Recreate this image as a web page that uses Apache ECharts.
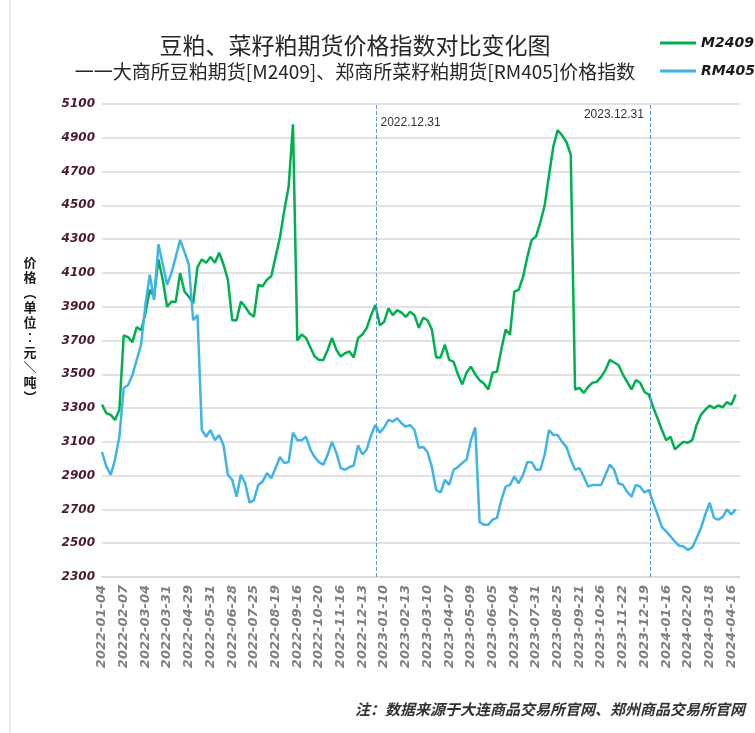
<!DOCTYPE html>
<html>
<head>
<meta charset="utf-8">
<script src="https://cdn.jsdelivr.net/npm/echarts@6/dist/echarts.min.js"></script>
<style>
	html, body { margin: 0; padding: 0; background: #fff; }
	#main { width: 755px; height: 733px; }
</style>
</head>
<body>
<div id="main"></div>
<script>
// trading-day tick labels, one every 20 trading days
var tickLabels = ['2022-01-04', '2022-02-07', '2022-03-04', '2022-03-31', '2022-04-29', '2022-05-31',
	'2022-06-28', '2022-07-25', '2022-08-19', '2022-09-16', '2022-10-20', '2022-11-16', '2022-12-13',
	'2023-01-10', '2023-02-13', '2023-03-10', '2023-04-07', '2023-05-09', '2023-06-05', '2023-07-04',
	'2023-07-31', '2023-08-25', '2023-09-21', '2023-10-26', '2023-11-22', '2023-12-19', '2024-01-16',
	'2024-02-20', '2024-03-18', '2024-04-16'];

// values read every 4 trading days
var step = 4;
var m2409 = [3320, 3270, 3260, 3230, 3290, 3730, 3720, 3690, 3780, 3760,
	3860, 4000, 3960, 4180, 4060, 3900, 3930, 3930, 4100, 3990,
	3960, 3920, 4135, 4180, 4160, 4195, 4160, 4220, 4150, 4060,
	3820, 3820, 3930, 3900, 3860, 3840, 4030, 4020, 4060, 4080,
	4195, 4310, 4470, 4610, 4980, 3700, 3735, 3715, 3660, 3605,
	3585, 3585, 3645, 3715, 3645, 3605, 3625, 3635, 3600, 3715,
	3735, 3775, 3850, 3910, 3790, 3810, 3890, 3850, 3880, 3865,
	3840, 3870, 3850, 3775, 3835, 3820, 3765, 3600, 3600, 3675,
	3585, 3575, 3500, 3440, 3510, 3545, 3500, 3465, 3445, 3410,
	3510, 3515, 3645, 3765, 3735, 3990, 4000, 4075, 4195, 4295,
	4315, 4400, 4500, 4680, 4850, 4945, 4915, 4875, 4800, 3410,
	3420, 3390, 3425, 3450, 3455, 3485, 3525, 3585, 3570, 3555,
	3500, 3455, 3410, 3465, 3450, 3395, 3380, 3305, 3240, 3170,
	3110, 3130, 3055, 3080, 3100, 3095, 3110, 3200, 3260, 3290,
	3315, 3300, 3315, 3305, 3335, 3320, 3380];
var rm405 = [3040, 2955, 2905, 2995, 3130, 3420, 3435, 3495, 3585, 3675,
	3910, 4090, 3940, 4270, 4150, 4030, 4100, 4195, 4295, 4225,
	4150, 3820, 3850, 3170, 3130, 3170, 3110, 3140, 3080, 2905,
	2875, 2775, 2905, 2855, 2740, 2755, 2845, 2865, 2915, 2885,
	2945, 3010, 2975, 2980, 3155, 3110, 3110, 3130, 3055, 3010,
	2980, 2965, 3025, 3100, 3035, 2945, 2935, 2950, 2960, 3080,
	3025, 3055, 3140, 3200, 3155, 3185, 3230, 3220, 3240, 3210,
	3190, 3200, 3170, 3065, 3070, 3040, 2950, 2815, 2800, 2875,
	2845, 2935, 2950, 2975, 2995, 3110, 3185, 2625, 2610, 2610,
	2640, 2650, 2755, 2835, 2845, 2895, 2855, 2905, 2980, 2980,
	2935, 2935, 3025, 3170, 3140, 3140, 3100, 3070, 2995, 2935,
	2945, 2895, 2835, 2845, 2845, 2845, 2905, 2965, 2935, 2855,
	2845, 2805, 2775, 2845, 2835, 2800, 2815, 2740, 2670, 2595,
	2570, 2540, 2510, 2485, 2480, 2460, 2475, 2530, 2590, 2670,
	2740, 2650, 2640, 2655, 2700, 2670, 2700];

// year-end markers (trading-day index)
var yearEnds = [{ idx: 253, text: '2022.12.31' }, { idx: 505, text: '2023.12.31' }];

function toPairs(arr) {
	return arr.map(function(v, i) { return [i * step, v]; });
}

var myChart = echarts.init(document.getElementById('main'));
var option = {
	animation: false,
	backgroundColor: '#fff',
	title: {
		text: '豆粕、菜籽粕期货价格指数对比变化图',
		subtext: '一一大商所豆粕期货[M2409]、郑商所菜籽粕期货[RM405]价格指数',
		left: 350,
		textAlign: 'center',
		top: 29,
		itemGap: 5,
		textStyle: {
			fontFamily: 'Noto Sans CJK SC',
			fontSize: 23,
			fontWeight: 'normal',
			color: '#262626'
		},
		subtextStyle: {
			fontFamily: 'Noto Sans CJK SC',
			fontSize: 19,
			color: '#262626'
		}
	},
	legend: {
		orient: 'vertical',
		left: 655,
		top: 31,
		itemGap: 14,
		icon: 'rect',
		itemWidth: 36,
		itemHeight: 3,
		textStyle: {
			fontFamily: 'DejaVu Sans',
			fontStyle: 'italic',
			fontWeight: 'bold',
			fontSize: 14,
			color: '#1a1a1a'
		},
		data: ['M2409', 'RM405']
	},
	grid: {
		left: 102,
		right: 15,
		top: 104,
		bottom: 156
	},
	xAxis: {
		type: 'value',
		min: 0,
		max: 588,
		interval: 20,
		axisLine: { lineStyle: { color: '#d9d9d9', width: 1.5 } },
		axisTick: { show: false },
		splitLine: { show: false },
		axisLabel: {
			rotate: 90,
			margin: 8,
			showMaxLabel: false,
			fontFamily: 'DejaVu Sans',
			fontStyle: 'italic',
			fontWeight: 'bold',
			fontSize: 13,
			color: '#7f7f7f',
			formatter: function(v) {
				return v % 20 === 0 && tickLabels[v / 20] ? tickLabels[v / 20] : '';
			}
		}
	},
	yAxis: {
		type: 'value',
		min: 2300,
		max: 5100,
		interval: 200,
		axisLine: { show: false },
		axisTick: { show: false },
		splitLine: { lineStyle: { color: '#d9d9d9', width: 1.5 } },
		axisLabel: {
			margin: 7,
			fontFamily: 'DejaVu Sans',
			fontStyle: 'italic',
			fontWeight: 'bold',
			fontSize: 12,
			color: '#4a1a33',
			formatter: function(v) { return String(v); }
		}
	},
	series: [{
		name: 'M2409',
		type: 'line',
		showSymbol: false,
		color: '#00b050',
		lineStyle: { width: 2.5 },
		data: toPairs(m2409),
		markLine: {
			silent: true,
			symbol: 'none',
			lineStyle: { type: 'dashed', color: '#5b9bd5', width: 1 },
			label: { show: false },
			data: yearEnds.map(function(d) { return { xAxis: d.idx }; })
		}
	}, {
		name: 'RM405',
		type: 'line',
		showSymbol: false,
		color: '#3fb4e5',
		lineStyle: { width: 2.5 },
		data: toPairs(rm405)
	}]
};
myChart.setOption(option);

// annotations placed next to the year-end markers
var x1 = myChart.convertToPixel({ xAxisIndex: 0 }, yearEnds[0].idx);
var x2 = myChart.convertToPixel({ xAxisIndex: 0 }, yearEnds[1].idx);
var axisNameChars = '价格︵单位︰元＼吨︶'.split('');
myChart.setOption({
	graphic: [{
		type: 'line',
		shape: { x1: 10, y1: 0, x2: 10, y2: 733 },
		style: { stroke: '#d9d9d9', lineWidth: 1 }
	}, {
		type: 'text',
		x: x1 + 4,
		y: 123,
		style: {
			text: yearEnds[0].text,
			fontFamily: 'Liberation Sans',
			fontSize: 12,
			fill: '#333',
			textVerticalAlign: 'middle'
		}
	}, {
		type: 'text',
		x: x2 - 6,
		y: 115,
		style: {
			text: yearEnds[1].text,
			fontFamily: 'Liberation Sans',
			fontSize: 12,
			fill: '#333',
			textAlign: 'right',
			textVerticalAlign: 'middle'
		}
	}, {
		type: 'text',
		x: 30,
		y: 255,
		style: {
			text: axisNameChars.join('\n'),
			fontFamily: 'Noto Sans CJK SC',
			fontSize: 13,
			fontWeight: 'bold',
			lineHeight: 15,
			fill: '#1a1a1a',
			textAlign: 'center'
		}
	}, {
		type: 'text',
		right: 10,
		top: 702,
		style: {
			text: '注：数据来源于大连商品交易所官网、郑州商品交易所官网',
			fontFamily: 'Noto Sans CJK SC',
			fontSize: 15,
			fontStyle: 'italic',
			fontWeight: 'bold',
			fill: '#333'
		}
	}]
});
</script>
</body>
</html>
